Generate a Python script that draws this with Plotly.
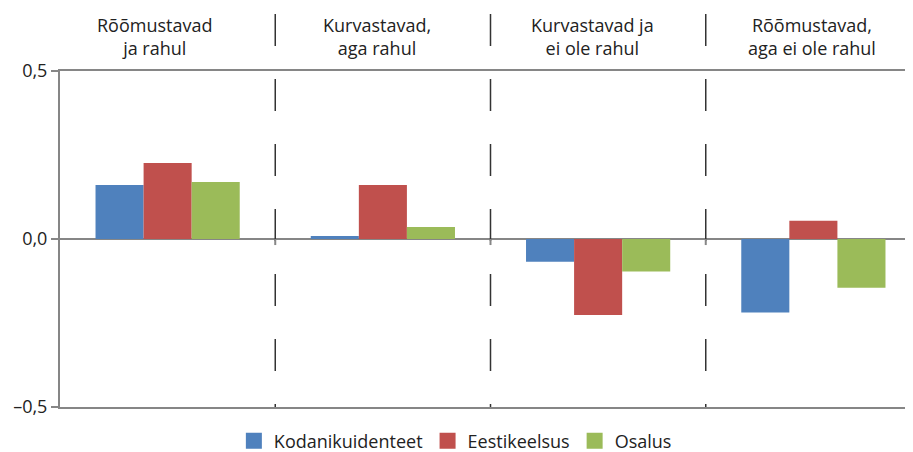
import plotly.graph_objects as go

categories = ["Rõõmustavad<br>ja rahul", "Kurvastavad,<br>aga rahul",
              "Kurvastavad ja<br>ei ole rahul", "Rõõmustavad,<br>aga ei ole rahul"]
series_names = ["Kodanikuidenteet", "Eestikeelsus", "Osalus"]
kodanikuidenteet = [0.161, 0.009, -0.068, -0.219]
eestikeelsus = [0.226, 0.161, -0.226, 0.054]
osalus = [0.170, 0.036, -0.097, -0.145]
colors = ["#4F81BD", "#C0504D", "#9BBB59"]
y_tickvals = [-0.5, 0.0, 0.5]
y_ticktext = ["–0,5", "0,0", "0,5"]

FONT = "Open Sans"
GRID = "#868686"
TXT = "#222222"
label_xshift = [-13, -6, -6, -1]   # category label placement (px)

fig = go.Figure()
idx = list(range(len(categories)))
for name, vals, col in zip(series_names, [kodanikuidenteet, eestikeelsus, osalus], colors):
    fig.add_trace(go.Bar(x=idx, y=vals, name=name, marker=dict(color=col, line=dict(width=0)),
                         showlegend=False))
    fig.add_trace(go.Scatter(x=[None], y=[None], mode="markers", name=name,
                             marker=dict(symbol="square", size=22, color=col)))

shapes = []
for b in [0.5, 1.5, 2.5]:
    shapes.append(dict(type="line", xref="x", yref="paper", x0=b, x1=b, y0=1.1696, y1=0,
                       line=dict(color="#333333", width=1.5, dash="32px,33px")))
    shapes.append(dict(type="line", xref="x", yref="y", x0=b, x1=b, y0=0, y1=-0.018,
                       line=dict(color=GRID, width=2)))

annotations = [dict(x=i, xref="x", y=1, yref="paper", yanchor="bottom", xanchor="center",
                    text=c, showarrow=False, align="center", xshift=s, yshift=9,
                    font=dict(family=FONT, size=18, color=TXT))
               for i, c, s in zip(idx, categories, label_xshift)]

fig.update_layout(
    width=913, height=452,
    margin=dict(l=52, r=0, t=63, b=53, autoexpand=False),
    paper_bgcolor="white", plot_bgcolor="white",
    barmode="group", bargap=0.33, bargroupgap=0,
    font=dict(family=FONT, size=18, color=TXT),
    shapes=shapes, annotations=annotations,
    legend=dict(orientation="h", xref="container", yref="container",
                x=0.49, xanchor="center", y=0.042, yanchor="middle",
                font=dict(size=18, color=TXT), itemwidth=30, traceorder="normal"),
    xaxis=dict(side="top", range=[-0.5, 3.5], tickvals=idx, showticklabels=False,
               showline=True, mirror=True, linecolor=GRID, linewidth=2,
               showgrid=False, zeroline=False, ticks="", fixedrange=True,
               automargin=False),
    yaxis=dict(range=[-0.5, 0.5], tickvals=y_tickvals, ticktext=y_ticktext,
               showline=True, linecolor=GRID, linewidth=2, automargin=False,
               ticks="outside", ticklen=7, tickwidth=2, tickcolor=GRID,
               showgrid=False, zeroline=True, zerolinecolor=GRID, zerolinewidth=2,
               tickfont=dict(size=18, color=TXT)),
)

fig.write_html("out.html")
